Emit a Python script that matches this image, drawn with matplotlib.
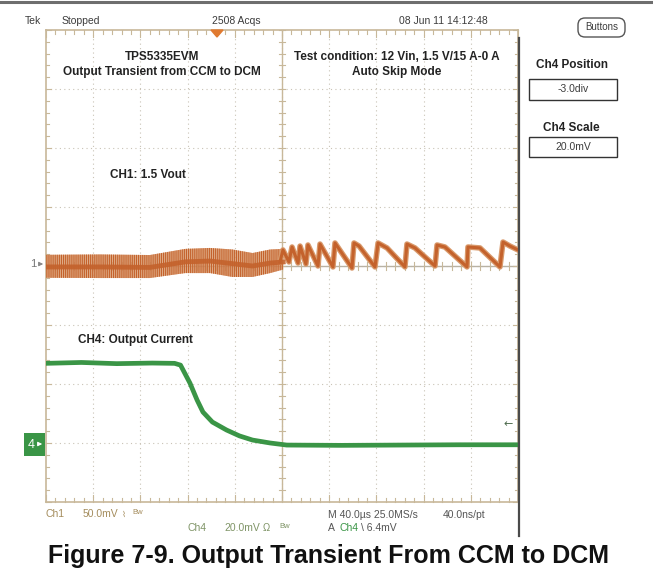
import matplotlib
matplotlib.use("Agg")
import matplotlib.pyplot as plt
from matplotlib.patches import Rectangle, FancyBboxPatch, Polygon

# Scope settings: 40 us/div, Ch1 50 mV/div (ripple), Ch4 20 mV/div at -3.0 div
T_DIV = 40.0
CH1_DIV = 50.0
CH4_DIV = 20.0
CH4_POS = -3.0

# Ch4 output current (time in us, level in mV)
ch4_t = [0, 30, 60, 90, 109, 114, 122, 128, 133, 141, 153, 164, 175, 190, 204, 250, 300, 350, 400]
ch4_mv = [27.0, 27.3, 26.9, 27.1, 27.0, 26.4, 20.3, 14.6, 10.5, 7.1, 4.4, 2.4, 1.0, 0.0, -0.7, -0.8, -0.7, -0.6, -0.6]

# Ch1 ripple in CCM (noisy band: time, top, middle, bottom in mV)
noise_t = [0, 46, 88, 118, 139, 158, 175, 190, 201]
noise_hi = [9.5, 9.8, 9.3, 14.5, 15.3, 14.0, 11.0, 14.0, 14.5]
noise_mid = [-0.8, -0.8, -1.2, 3.5, 4.2, 2.0, 0.0, 2.5, 3.4]
noise_lo = [-10.0, -10.2, -10.2, -6.0, -6.0, -9.3, -9.3, -6.0, -3.0]

# Ch1 ripple in DCM / skip mode (sawtooth, time in us, level in mV)
saw_t = [198.3, 200.8, 205.9, 208.5, 213.6, 215.3, 220.3, 222.0, 230.5, 232.2,
         243.2, 244.9, 259.3, 261.0, 265.3, 278.8, 281.4, 289.0, 304.2, 305.9,
         312.7, 329.7, 331.4, 338.1, 356.8, 357.6, 367.8, 384.7, 387.3, 393.2, 400.0]
saw_mv = [3.4, 13.6, 3.4, 16.1, 2.5, 16.9, 1.7, 17.8, 0.0, 18.6,
          -0.8, 19.5, -1.7, 19.5, 16.9, -0.8, 19.5, 15.3, -0.8, 18.6,
          15.3, 0.0, 17.8, 16.1, -0.8, 16.1, 15.3, -0.8, 20.3, 16.9, 13.6]

C1 = '#c4622c'
C1_LIGHT = '#d99a6c'
C4 = '#3a9546'
GRID = '#c9c3b6'
FRAME = '#c8b89a'
UI = '#3c3c3c'
SANS = ['Liberation Sans', 'DejaVu Sans']

plt.rcParams['hatch.linewidth'] = 0.8

W, H = 653, 582
fig = plt.figure(figsize=(W / 100, H / 100), dpi=100)

# scope graticule: px 46..518 x 30..502
L, R, T, B = 46, 518, 30, 502
ax = fig.add_axes([L / W, 1 - B / H, (R - L) / W, (B - T) / H])
ax.set_xlim(0, 10 * T_DIV)
ax.set_ylim(-4, 4)
ax.axis('off')

# dotted division lines
for i in range(1, 10):
    ax.plot([i * T_DIV] * 2, [-4, 4], color=GRID, lw=0.8, ls=(0, (1, 3)), zorder=1)
for j in range(-3, 4):
    ax.plot([0, 10 * T_DIV], [j, j], color=GRID, lw=0.8, ls=(0, (1, 3)), zorder=1)
# centre lines and frame
ax.plot([0, 400], [0, 0], color='#b8b2a4', lw=1.0, zorder=1)
ax.plot([200, 200], [-4, 4], color=FRAME, lw=1.0, zorder=1)
for y in (-4, 4):
    ax.plot([0, 400], [y, y], color=FRAME, lw=1.2, zorder=1, clip_on=False)
ax.plot([0, 0], [-4, 4], color=FRAME, lw=1.2, zorder=1, clip_on=False)
ax.plot([400, 400], [-4, 4], color=FRAME, lw=1.2, zorder=1, clip_on=False)
# minor ticks (0.2 div)
xt = 0.07 * T_DIV
yt = 0.07
for k in range(51):
    x = k * 0.2 * T_DIV
    big = 1.6 if k % 5 == 0 else 1.0
    for y0, s in ((-4, 1), (4, -1)):
        ax.plot([x, x], [y0, y0 + s * yt * big], color=FRAME, lw=0.8, zorder=1, clip_on=False)
    ax.plot([x, x], [-yt, yt], color=FRAME, lw=0.8, zorder=1)
for k in range(41):
    y = -4 + k * 0.2
    big = 1.6 if k % 5 == 0 else 1.0
    for x0, s in ((0, 1), (400, -1)):
        ax.plot([x0, x0 + s * xt * big], [y, y], color=FRAME, lw=0.8, zorder=1, clip_on=False)
    ax.plot([200 - xt, 200 + xt], [y, y], color=FRAME, lw=0.8, zorder=1)

# Ch1 trace
hi = [v / CH1_DIV for v in noise_hi]
lo = [v / CH1_DIV for v in noise_lo]
mid = [v / CH1_DIV for v in noise_mid]
ax.fill_between(noise_t, lo, hi, facecolor=C1_LIGHT, edgecolor='none', alpha=0.8, zorder=3)
ax.fill_between(noise_t, lo, hi, facecolor='none', edgecolor=C1, hatch='||||||||', linewidth=0, zorder=3)
ax.plot(noise_t, mid, color=C1, lw=3.5, alpha=0.9, zorder=4)
ax.plot(saw_t, [v / CH1_DIV for v in saw_mv], color=C1_LIGHT, lw=4.0, zorder=3)
ax.plot(saw_t, [v / CH1_DIV for v in saw_mv], color=C1, lw=2.2, zorder=4)

# Ch4 trace
ax.plot(ch4_t, [v / CH4_DIV + CH4_POS for v in ch4_mv], color=C4, lw=3.4, zorder=4,
        solid_joinstyle='round')

# overlay in pixel coordinates
ov = fig.add_axes([0, 0, 1, 1], zorder=5)
ov.set_xlim(0, W)
ov.set_ylim(H, 0)
ov.axis('off')
ov.patch.set_alpha(0)

ov.plot([0, W], [2, 2], color='#6e6e6e', lw=2.2)
ov.plot([519, 519], [38, 536], color='#4a4a4a', lw=1.6)

# header
ov.text(25, 21, 'Tek', family=SANS, fontsize=7.5, color=UI, va='center')
ov.text(62, 21, 'Stopped', family=SANS, fontsize=7.5, color=UI, va='center')
ov.text(236, 21, '2508 Acqs', family=SANS, fontsize=7.5, color=UI, va='center', ha='center')
ov.text(443, 21, '08 Jun 11 14:12:48', family=SANS, fontsize=7.5, color=UI, va='center', ha='center')
ov.add_patch(Polygon([[211, 30], [223, 30], [217, 37]], closed=True, color='#e07a30'))

# right panel
ov.add_patch(FancyBboxPatch((578, 18), 47, 19, boxstyle='round,pad=0,rounding_size=7',
                            facecolor='white', edgecolor='#555555', lw=1.0))
ov.text(601.5, 27.5, 'Buttons', family=SANS, fontsize=7, color=UI, ha='center', va='center')
ov.text(572, 65, 'Ch4 Position', family=SANS, fontsize=8.5, fontweight='bold', color='#222222',
        ha='center', va='center')
ov.add_patch(Rectangle((529, 79), 88, 21, facecolor='white', edgecolor='#333333', lw=1.0))
ov.text(573, 89.5, '-3.0div', family=SANS, fontsize=7.5, color=UI, ha='center', va='center')
ov.text(571, 128, 'Ch4 Scale', family=SANS, fontsize=8.5, fontweight='bold', color='#222222',
        ha='center', va='center')
ov.add_patch(Rectangle((529, 137), 88, 20, facecolor='white', edgecolor='#333333', lw=1.0))
ov.text(573, 147, '20.0mV', family=SANS, fontsize=7.5, color=UI, ha='center', va='center')

# annotations
NOTE = dict(family=SANS, fontsize=8.5, fontweight='bold', color='#222222', va='center')
ov.text(162, 57, 'TPS5335EVM', ha='center', **NOTE)
ov.text(162, 72, 'Output Transient from CCM to DCM', ha='center', **NOTE)
ov.text(397, 57, 'Test condition: 12 Vin, 1.5 V/15 A-0 A', ha='center', **NOTE)
ov.text(397, 72, 'Auto Skip Mode', ha='center', **NOTE)
ov.text(148, 175, 'CH1: 1.5 Vout', ha='center', **NOTE)
ov.text(78, 340, 'CH4: Output Current', ha='left', **NOTE)

# channel markers
ov.text(33, 264, '1', family=SANS, fontsize=8, color='#777777', ha='center', va='center')
ov.annotate('', xy=(46, 264), xytext=(37, 264),
            arrowprops=dict(arrowstyle='-|>', color='#888888', lw=0.8, mutation_scale=6))
ov.add_patch(Rectangle((24, 433), 21, 23, facecolor=C4, edgecolor='none'))
ov.text(31, 444.5, '4', family=SANS, fontsize=9, color='white', ha='center', va='center')
ov.annotate('', xy=(45, 444), xytext=(36, 444),
            arrowprops=dict(arrowstyle='-|>', color='white', lw=0.8, mutation_scale=6))
ov.text(508, 424, '\u2190', family=['DejaVu Sans'], fontsize=8, color='#4d6b4d', ha='center', va='center')

# bottom readout
TAN = '#a48c5c'
GTAN = '#7f9466'
RD = dict(family=SANS, fontsize=7.5, va='center')
ov.text(45, 514, 'Ch1', color=TAN, **RD)
ov.text(83, 514, '50.0mV', color=TAN, **RD)
ov.text(122, 514, '\u2307', family=['DejaVu Sans'], fontsize=6, color=TAN, va='center')
ov.text(132, 512, 'Bw', family=SANS, fontsize=5.5, color=TAN, va='center')
ov.text(187, 528, 'Ch4', color=GTAN, **RD)
ov.text(224, 528, '20.0mV', color=GTAN, **RD)
ov.text(263, 528, '\u03a9', family=SANS, fontsize=7, color=GTAN, va='center')
ov.text(279, 526, 'Bw', family=SANS, fontsize=5.5, color=GTAN, va='center')
ov.text(328, 515, 'M 40.0\u00b5s 25.0MS/s', color='#555555', **RD)
ov.text(443, 515, '40.0ns/pt', color='#555555', **RD)
ov.text(328, 528, 'A', color='#555555', **RD)
ov.text(339, 528, 'Ch4', color=C4, **RD)
ov.text(361, 528, '\\ 6.4mV', color='#555555', **RD)

# caption
ov.text(329, 556, 'Figure 7-9. Output Transient From CCM to DCM', family=SANS, fontsize=18,
        fontweight='bold', color='#111111', ha='center', va='center')

fig.savefig('out.png', dpi=100)
